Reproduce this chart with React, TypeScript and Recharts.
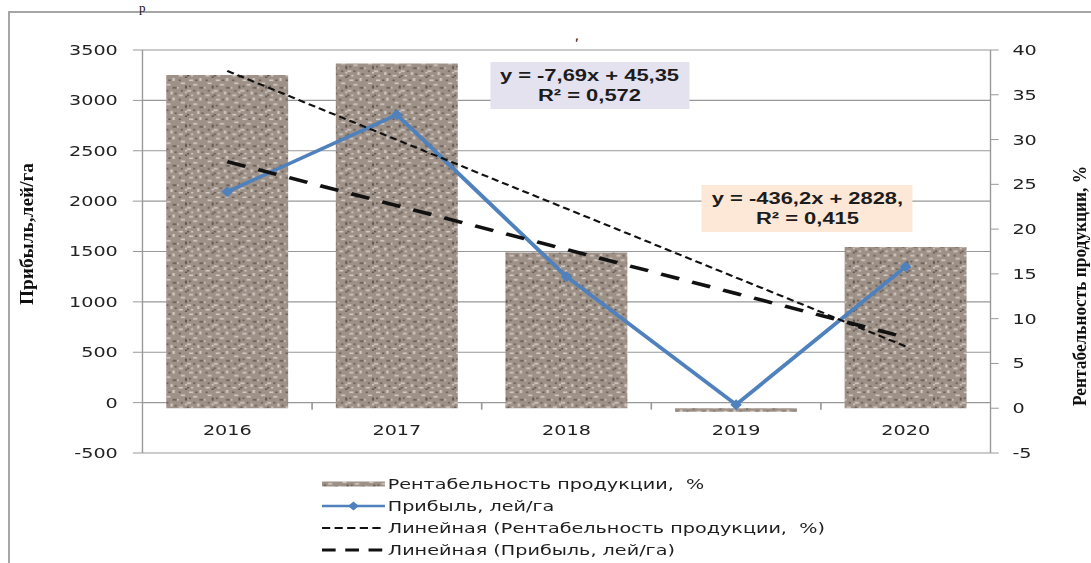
import React from "react";
import {
  ComposedChart,
  Bar,
  Line,
  XAxis,
  YAxis,
  CartesianGrid,
  Legend,
  Label,
} from "recharts";

const years = ["2016", "2017", "2018", "2019", "2020"];
const profit = [2093, 2857, 1250, -20, 1349];
const rentability = [37.2, 38.5, 17.4, -0.4, 18.0];
// trend lines
const rentTrend = [37.66, 29.97, 22.28, 14.59, 6.9];
const profitTrend = [2391.8, 1955.6, 1519.4, 1083.2, 647.0];
const leftTicks = [-500, 0, 500, 1000, 1500, 2000, 2500, 3000, 3500];
const rightTicks = [-5, 0, 5, 10, 15, 20, 25, 30, 35, 40];

const data = years.map((year, i) => ({
  year,
  profit: profit[i],
  rent: rentability[i],
  rentTrend: rentTrend[i],
  profitTrend: profitTrend[i],
}));

// the source picture is stretched sideways, so the chart is drawn narrow and scaled
const S = 1.37;
const W = 796;
const H = 563;
const LEFT_W = 104;
const RIGHT_W = 73;
const TOP = 50;
const PLOT_H = 403;
const ZERO_Y = TOP + (PLOT_H * 3500) / 4000;
const BAND = (W - LEFT_W - RIGHT_W) / years.length;

const GRID = "#989898";
const BLUE = "#4f81bd";
const TICK_FONT = { fontFamily: "DejaVu Sans", fontSize: 14, fill: "#222" };

const specksLight = [
  [1, 1, 2, 1], [6, 0, 1, 2], [3, 4, 2, 1], [10, 3, 2, 1], [8, 6, 1, 1],
  [0, 8, 2, 1], [5, 9, 1, 2], [12, 9, 1, 1], [9, 11, 2, 1], [2, 11, 1, 1],
];
const specksDark = [
  [4, 1, 1, 1], [9, 1, 1, 1], [12, 5, 1, 2], [1, 5, 1, 1], [6, 6, 2, 1],
  [3, 8, 1, 1], [10, 8, 1, 1], [7, 10, 1, 1], [0, 11, 1, 1], [12, 12, 1, 1],
];

const Granite = ({ id }: { id: string }) => (
  <pattern
    id={id}
    patternUnits="userSpaceOnUse"
    width={13}
    height={13}
    patternTransform="scale(1.5)"
  >
    <rect width={13} height={13} fill="#9e9188" />
    {specksLight.map(([x, y, w, h], i) => (
      <rect key={"l" + i} x={x} y={y} width={w} height={h} fill="#d6cec7" />
    ))}
    {specksDark.map(([x, y, w, h], i) => (
      <rect key={"d" + i} x={x} y={y} width={w} height={h} fill="#62574f" />
    ))}
  </pattern>
);

const Diamond = (props: any) => {
  const { cx, cy } = props;
  if (cx == null || cy == null) return null;
  return (
    <polygon
      points={`${cx},${cy - 5.5} ${cx + 4.2},${cy} ${cx},${cy + 5.5} ${cx - 4.2},${cy}`}
      fill={BLUE}
    />
  );
};

const XTick = (props: any) => {
  const { x, index, payload } = props;
  return (
    <g>
      <text
        x={x}
        y={ZERO_Y + 27}
        textAnchor="middle"
        dominantBaseline="central"
        {...TICK_FONT}
      >
        {payload.value}
      </text>
      {index < years.length - 1 && (
        <line
          x1={x + BAND / 2}
          x2={x + BAND / 2}
          y1={ZERO_Y}
          y2={ZERO_Y + 7}
          stroke={GRID}
          strokeWidth={1.2}
        />
      )}
    </g>
  );
};

const AxisTitle = ({ cx, cy, len, text }: any) => (
  <text
    transform={`translate(${cx},${cy}) scale(${1 / S},1) rotate(-90)`}
    textAnchor="middle"
    dominantBaseline="central"
    fontFamily="Liberation Serif"
    fontWeight={700}
    fontSize={19}
    fill="#111"
    textLength={len}
    lengthAdjust="spacingAndGlyphs"
  >
    {text}
  </text>
);

const legendItems = [
  { name: "Рентабельность продукции,  %", kind: "bar" },
  { name: "Прибыль, лей/га", kind: "line" },
  { name: "Линейная (Рентабельность продукции,  %)", kind: "short" },
  { name: "Линейная (Прибыль, лей/га)", kind: "long" },
];

const LegendIcon = ({ kind }: { kind: string }) => (
  <svg width={46} height={14} style={{ flex: "none" }}>
    {kind === "bar" && (
      <>
        <defs>
          <Granite id="graniteLegend" />
        </defs>
        <rect x={0} y={4.5} width={46} height={5} fill="url(#graniteLegend)" />
      </>
    )}
    {kind === "line" && (
      <>
        <line x1={0} x2={46} y1={7} y2={7} stroke={BLUE} strokeWidth={2.5} />
        <polygon points="23,2.5 27,7 23,11.5 19,7" fill={BLUE} />
      </>
    )}
    {kind === "short" && (
      <line x1={0} x2={46} y1={7} y2={7} stroke="#111" strokeWidth={2} strokeDasharray="6 3.2" />
    )}
    {kind === "long" && (
      <line x1={0} x2={46} y1={7} y2={7} stroke="#111" strokeWidth={3} strokeDasharray="10 7" />
    )}
  </svg>
);

const LegendContent = () => (
  <div style={{ height: 90, fontFamily: "DejaVu Sans", fontSize: 14, color: "#1e1e1e" }}>
    {legendItems.map((it) => (
      <div key={it.name} style={{ display: "flex", alignItems: "center", height: 22 }}>
        <LegendIcon kind={it.kind} />
        <span style={{ marginLeft: 2, whiteSpace: "pre" }}>{it.name}</span>
      </div>
    ))}
  </div>
);

const boxStyle: React.CSSProperties = {
  position: "absolute",
  top: 62,
  height: 47,
  paddingTop: 4,
  boxSizing: "border-box",
  fontFamily: "Liberation Sans",
  fontWeight: 700,
  fontSize: 16,
  lineHeight: "20px",
  color: "#1c1c1c",
  textAlign: "center",
  whiteSpace: "nowrap",
};

export default function App() {
  return (
    <div style={{ position: "absolute", left: 0, top: 0, width: 1091, height: H, overflow: "hidden", background: "#fff" }}>
      <div
        style={{
          position: "absolute",
          left: 8,
          top: 11,
          width: 1091,
          height: H,
          borderLeft: "2px solid #a6a6a6",
          borderTop: "2px solid #a6a6a6",
        }}
      />
      <svg width={20} height={16} style={{ position: "absolute", left: 138, top: 0 }}>
        <text x={1} y={12} fontFamily="Liberation Serif" fontSize={13} fill="#111">
          р
        </text>
      </svg>
      <svg width={20} height={26} style={{ position: "absolute", left: 570, top: 26 }}>
        <text x={5} y={22} fontFamily="Liberation Serif" fontWeight={700} fontSize={14} fill="#111">
          ʹ
        </text>
      </svg>
      <div
        style={{
          position: "absolute",
          left: 0,
          top: 0,
          width: W,
          height: H,
          transform: `scaleX(${S})`,
          transformOrigin: "0 0",
        }}
      >
        <ComposedChart
          width={W}
          height={H}
          data={data}
          margin={{ top: TOP, right: 0, bottom: 0, left: 0 }}
          barCategoryGap="14%"
        >
          <defs>
            <Granite id="granite" />
          </defs>
          <CartesianGrid yAxisId="left" vertical={false} stroke={GRID} strokeWidth={1.2} />
          <XAxis
            dataKey="year"
            height={20}
            axisLine={false}
            tickLine={false}
            interval={0}
            tick={XTick}
          />
          <YAxis
            yAxisId="left"
            width={LEFT_W}
            domain={[-500, 3500]}
            ticks={leftTicks}
            interval={0}
            stroke={GRID}
            tickSize={7}
            tickMargin={11}
            tick={TICK_FONT}
          >
            <Label
              content={() => (
                <AxisTitle cx={26 / S} cy={234} len={142} text="Прибыль,лей/га" />
              )}
            />
          </YAxis>
          <YAxis
            yAxisId="right"
            orientation="right"
            width={RIGHT_W}
            domain={[-5, 40]}
            ticks={rightTicks}
            interval={0}
            stroke={GRID}
            tickSize={6}
            tickMargin={10}
            tick={{ ...TICK_FONT, textAnchor: "start" }}
          >
            <Label
              content={() => (
                <AxisTitle cx={1079 / S} cy={286} len={240} text="Рентабельность продукции, %" />
              )}
            />
          </YAxis>
          <Bar yAxisId="right" dataKey="rent" fill="url(#granite)" isAnimationActive={false} />
          <Line
            yAxisId="left"
            dataKey="profit"
            stroke={BLUE}
            strokeWidth={3.3}
            dot={<Diamond />}
            activeDot={false}
            isAnimationActive={false}
          />
          <Line
            yAxisId="right"
            dataKey="rentTrend"
            stroke="#111"
            strokeWidth={2}
            strokeDasharray="5.4 3.1"
            dot={false}
            activeDot={false}
            isAnimationActive={false}
          />
          <Line
            yAxisId="left"
            dataKey="profitTrend"
            stroke="#111"
            strokeWidth={3.5}
            strokeDasharray="14 10"
            dot={false}
            activeDot={false}
            isAnimationActive={false}
          />
          <Legend
            verticalAlign="bottom"
            content={LegendContent}
            wrapperStyle={{ left: 235, bottom: 0, width: 450 }}
          />
        </ComposedChart>
        <div style={{ ...boxStyle, left: 490 / S, width: 199 / S, background: "#e5e2ef" }}>
          <div>y = -7,69x + 45,35</div>
          <div>R² = 0,572</div>
        </div>
        <div style={{ ...boxStyle, top: 185, left: 702 / S, width: 211 / S, background: "#fde8d7" }}>
          <div>y = -436,2x + 2828,</div>
          <div>R² = 0,415</div>
        </div>
      </div>
    </div>
  );
}
